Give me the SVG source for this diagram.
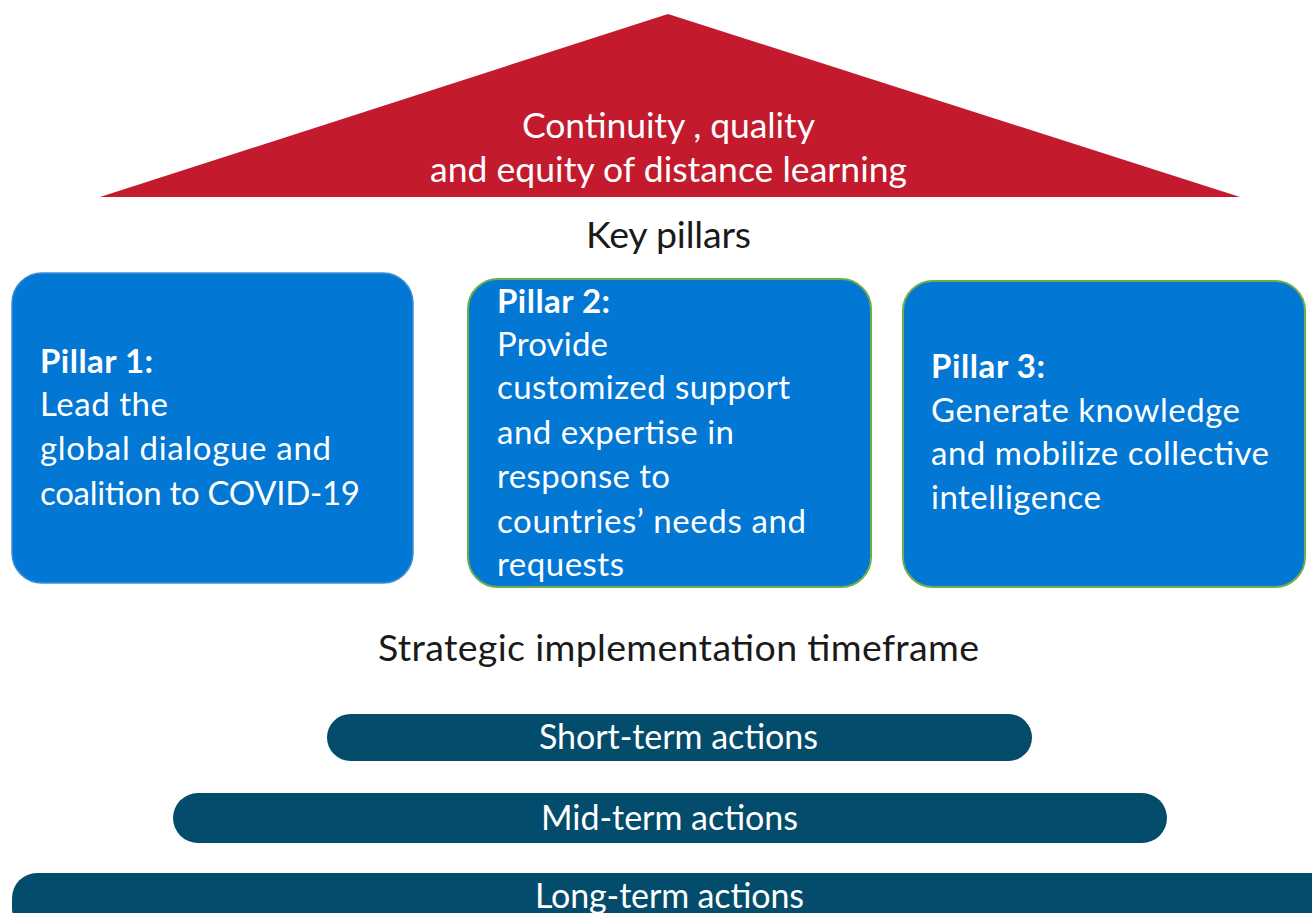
<svg xmlns="http://www.w3.org/2000/svg" width="1312" height="913" viewBox="0 0 1312 913">
<style>
.t{font-family:Lato,"Noto Sans",sans-serif;font-size:33px;}
.r{font-size:35.5px;}
.h{font-size:37.5px;}
.s{font-size:34px;}
.w{fill:#ffffff;}
.k{fill:#1a1a1a;}
.b{font-weight:bold;}
.box{fill:#0277D4;}
.bar{fill:#034C6B;}
</style>
<rect width="1312" height="913" fill="#ffffff"/>
<g id="roof">
<polygon points="668,14 1240,197 100,197" fill="#C31A2E"/>
<text class="t r w" x="522" y="138" textLength="293">Continuity , quality</text>
<text class="t r w" x="430" y="182" textLength="477">and equity of distance learning</text>
</g>
<g id="key-pillars"><text class="t h k" x="586" y="248" textLength="165">Key pillars</text></g>
<g id="pillar1">
<rect class="box" x="12" y="273" width="401" height="310" rx="30" stroke="#3d8fd8" stroke-width="1.5"/>
<text class="t w b" x="40" y="373" textLength="113">Pillar 1:</text>
<text class="t w" x="40" y="416" textLength="128">Lead the</text>
<text class="t w" x="40" y="460" textLength="291">global dialogue and</text>
<text class="t w" x="40" y="505" textLength="320">coalition to COVID-19</text>
</g>
<g id="pillar2">
<rect class="box" x="468" y="279" width="403" height="308" rx="30" stroke="#70AD47" stroke-width="2"/>
<text class="t w b" x="497" y="313" textLength="113">Pillar 2:</text>
<text class="t w" x="497" y="356" textLength="111">Provide</text>
<text class="t w" x="497" y="399" textLength="293">customized support</text>
<text class="t w" x="497" y="444" textLength="237">and expertise in</text>
<text class="t w" x="497" y="488" textLength="173">response to</text>
<text class="t w" x="497" y="533" textLength="309">countries’ needs and</text>
<text class="t w" x="497" y="576" textLength="127">requests</text>
</g>
<g id="pillar3">
<rect class="box" x="903" y="281" width="402" height="306" rx="30" stroke="#70AD47" stroke-width="2"/>
<text class="t w b" x="931" y="378" textLength="114">Pillar 3:</text>
<text class="t w" x="931" y="422" textLength="309">Generate knowledge</text>
<text class="t w" x="931" y="465" textLength="338">and mobilize collective</text>
<text class="t w" x="931" y="509" textLength="170">intelligence</text>
</g>
<g id="timeframe"><text class="t h k" x="378" y="661" textLength="601">Strategic implementation timeframe</text></g>
<g id="short">
<rect class="bar" x="327" y="714" width="705" height="47" rx="23.5"/>
<text class="t s w" x="539" y="749" textLength="279">Short-term actions</text>
</g>
<g id="mid">
<rect class="bar" x="173" y="793" width="994" height="50" rx="25"/>
<text class="t s w" x="541" y="830" textLength="257">Mid-term actions</text>
</g>
<g id="long">
<rect class="bar" x="12" y="873" width="1330" height="60" rx="25"/>
<text class="t s w" x="535" y="908" textLength="269">Long-term actions</text>
</g>
<g id="connectors"/>
</svg>
